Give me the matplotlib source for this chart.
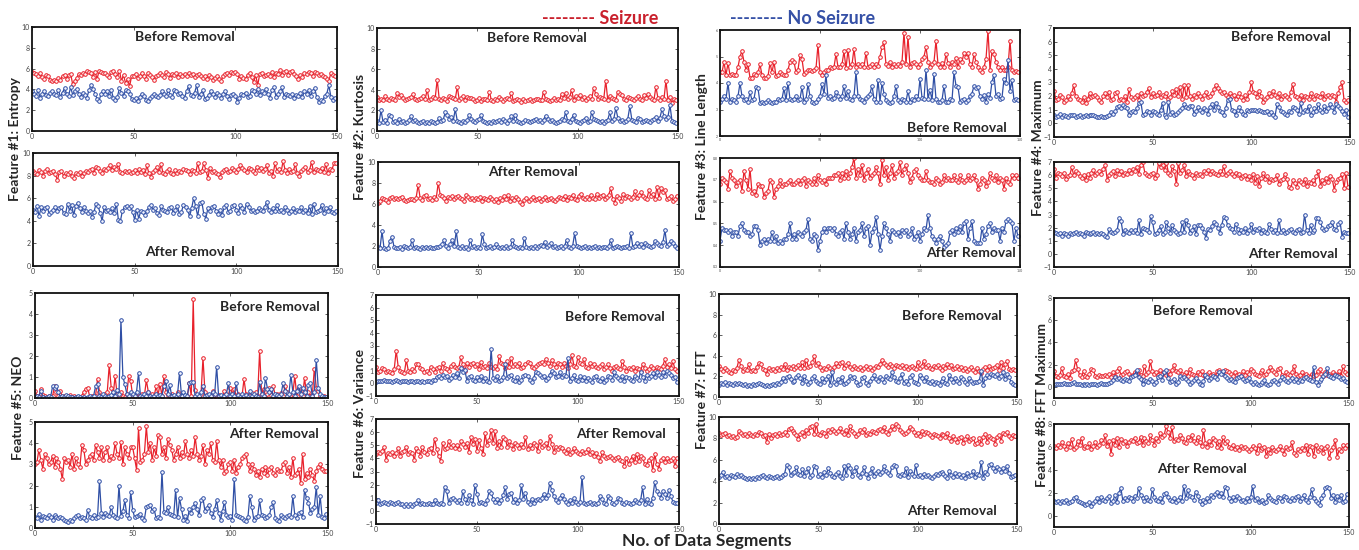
import numpy as np
import matplotlib
matplotlib.use("Agg")
import matplotlib.pyplot as plt

plt.rcParams['font.family'] = ['Lato', 'DejaVu Sans']

# ---------------- DATA ----------------
segments = np.arange(150)
x_ticks = [0, 50, 100, 150]

f1_before_seizure = [5.7,5.6,5.5,5.3,5.6,5.2,5.0,5.4,5.3,4.9, 4.8,4.9,4.8,5.1,4.9,5.3,5.4,5.0,5.4,5.5,
    4.5,4.8,5.1,5.5,5.4,5.6,5.5,5.8,5.7,5.6, 5.2,5.7,5.0,5.8,5.7,5.6,5.6,5.4,5.2,5.7,
    5.8,5.5,5.2,5.8,4.8,5.4,4.6,5.0,4.3,5.3, 5.3,5.5,5.1,5.3,5.6,5.3,5.0,5.6,5.4,5.2,
    4.9,5.3,5.4,5.6,5.4,5.2,5.7,5.5,5.1,5.5, 5.4,5.6,5.2,5.5,5.3,5.5,5.3,5.6,5.4,5.5,
    5.2,5.4,5.5,5.3,5.1,5.3,5.0,5.4,5.2,4.9, 5.1,5.3,5.0,4.8,5.3,5.5,5.6,5.4,5.7,5.6,
    5.7,5.5,5.0,5.3,5.1,5.0,5.4,5.6,5.2,4.7, 5.4,4.4,5.5,5.6,5.3,5.4,5.5,5.3,5.7,5.2,
    5.6,5.5,5.9,5.4,5.7,5.8,5.4,5.7,5.8,5.5, 5.3,5.0,5.4,5.2,5.6,5.5,5.7,5.6,5.3,5.7,
    5.6,5.4,5.5,5.3,5.2,5.0,4.8,5.6,5.4,5.3]
f1_before_noseizure = [3.8,3.6,3.4,3.9,3.2,3.6,3.8,3.5,3.4,3.7, 3.8,3.6,3.5,3.9,3.3,3.7,4.1,3.6,3.4,4.2,
    3.5,3.8,4.0,3.6,3.3,3.7,3.5,3.2,3.9,4.4, 4.0,3.6,3.1,2.9,3.6,3.8,3.6,3.8,3.4,3.9,
    3.2,3.0,3.3,4.1,3.7,3.4,3.9,3.8,3.6,3.1, 3.0,3.2,2.9,3.3,3.6,3.4,3.0,2.9,3.2,3.4,
    3.6,3.4,3.3,3.5,3.8,3.6,3.4,3.9,3.5,3.3, 3.9,3.8,3.6,3.7,3.4,3.2,3.8,4.3,3.5,3.4,
    3.7,4.4,3.3,3.6,3.9,3.1,3.2,3.5,3.8,3.6, 3.3,3.7,3.5,3.2,3.6,3.8,3.4,3.1,3.5,3.6,
    3.4,2.8,3.2,3.6,3.5,3.7,3.3,3.4,3.9,3.8, 3.6,4.0,3.5,3.8,3.7,4.0,3.6,3.2,3.9,4.2,
    3.3,3.6,3.8,4.2,3.3,3.6,3.5,3.4,3.6,3.2, 3.5,3.4,3.7,3.3,3.8,3.6,3.9,3.4,3.8,4.1,
    3.3,2.8,3.0,2.9,3.4,3.6,4.4,3.3,3.0,3.2]
f1_after_seizure = [8.4,8.2,8.1,8.5,8.3,8.0,8.4,8.6,8.2,8.3, 8.4,8.1,7.6,8.3,8.4,8.0,8.2,8.1,8.3,8.0,
    7.8,8.2,8.1,8.3,8.0,8.2,8.4,8.3,8.5,8.6, 8.2,8.8,8.7,8.4,8.2,8.6,8.5,8.7,8.9,8.5,
    8.8,8.6,9.0,8.3,8.2,8.4,8.3,8.4,8.2,8.3, 8.5,8.2,8.6,8.3,8.5,8.1,8.9,8.2,7.9,8.3,
    8.5,8.8,8.3,9.0,8.2,8.1,8.4,8.6,8.2,8.1, 8.5,8.2,8.4,8.3,8.6,8.5,8.4,8.1,8.5,8.4,
    8.2,9.1,8.3,8.4,9.1,8.5,7.8,8.7,8.3,8.4, 8.2,8.1,7.9,8.3,8.5,8.6,8.3,8.4,8.7,8.5,
    8.3,8.6,8.9,8.7,8.5,8.3,8.7,8.6,8.4,8.2, 8.8,8.5,8.7,8.4,8.6,8.9,8.2,8.4,8.0,9.1,
    8.4,8.6,8.3,9.3,8.5,8.2,8.6,8.3,8.4,9.0, 8.2,8.0,8.4,8.6,8.8,8.3,8.5,9.2,8.3,8.6,
    8.5,8.4,8.7,8.3,9.0,8.2,8.6,8.5,9.1,9.1]
f1_after_noseizure = [5.0,4.8,5.3,4.4,5.2,4.9,5.1,5.2,4.6,4.8, 5.0,5.2,4.9,5.1,5.2,4.7,4.6,5.5,4.9,5.4,
    4.5,5.3,5.6,5.1,4.8,5.2,4.9,4.7,4.9,4.3, 4.8,5.5,5.3,4.7,4.0,5.2,4.9,5.0,4.8,5.1,
    4.7,5.5,4.1,4.0,4.9,5.2,5.3,5.1,5.3,4.8, 4.1,5.0,4.2,4.9,4.8,4.5,4.9,5.2,5.4,5.0,
    5.1,4.7,4.5,5.3,5.0,4.9,4.8,5.1,5.2,4.7, 5.0,5.3,4.6,4.8,5.4,5.2,5.0,4.4,5.1,6.0,
    5.3,4.4,5.6,5.7,4.6,4.2,5.1,4.9,5.2,5.3, 4.9,4.6,5.0,4.5,5.2,5.4,4.8,4.9,5.3,5.4,
    5.0,4.7,5.4,5.1,4.8,5.5,5.2,4.9,5.0,4.8, 4.9,5.1,5.0,4.9,5.2,5.7,5.0,4.8,5.1,4.9,
    5.4,4.9,5.0,4.8,5.2,5.0,4.7,4.9,5.1,4.8, 5.0,4.9,5.2,4.8,5.0,4.7,5.3,4.6,5.5,4.8,
    4.9,5.0,5.4,4.7,5.1,4.9,5.2,4.8,4.7,4.9]

f2_before_seizure = [3.3,3.0,3.1,3.0,3.4,3.1,3.0,3.2,3.1,3.0, 3.7,3.3,3.5,3.2,3.0,3.1,3.2,3.3,3.6,3.1,
    3.0,3.1,3.2,3.4,3.1,4.0,3.0,3.1,3.3,3.2, 5.0,3.1,3.0,3.2,3.1,2.9,3.4,3.3,3.2,3.1,
    4.3,3.0,3.2,3.4,3.0,3.3,3.2,3.2,3.1,2.9, 3.0,3.2,2.9,3.1,3.1,3.0,3.8,3.0,2.9,3.1,
    3.0,3.3,3.1,2.9,3.1,3.2,3.1,3.7,2.9,3.0, 3.1,3.0,2.8,3.1,2.9,3.0,3.1,2.9,3.0,3.1,
    3.1,3.0,3.0,3.8,3.1,3.0,2.9,3.0,3.2,3.0, 3.1,3.0,3.6,3.2,3.7,3.1,3.3,4.0,3.0,3.4,
    3.2,3.5,3.1,3.3,3.0,3.2,3.4,3.1,4.2,3.6, 3.1,3.3,3.2,3.1,4.9,3.0,3.4,3.2,3.1,3.0,
    3.8,3.6,3.5,3.1,3.0,3.3,3.2,3.1,3.0,3.2, 3.4,3.1,3.0,3.5,3.2,3.6,3.3,3.1,3.0,4.3,
    3.2,3.0,3.3,3.1,4.9,3.0,3.3,2.7,3.1,3.0]
f2_before_noseizure = [1.0,0.8,2.0,0.9,1.1,0.8,1.6,1.5,0.9,1.0, 0.8,1.2,0.9,1.0,0.8,0.9,1.1,1.5,1.0,1.1,
    0.9,0.8,0.9,1.0,0.8,0.9,0.8,1.0,0.9,0.8, 0.9,1.3,1.0,1.1,1.8,1.6,1.2,1.4,1.0,2.1,
    1.0,0.9,0.8,1.0,0.9,1.1,1.6,1.2,1.0,0.9, 1.1,1.2,1.6,1.0,0.9,0.8,0.9,0.8,1.0,0.9,
    1.0,1.1,0.9,1.2,1.0,0.8,1.1,1.5,1.0,1.6, 1.0,0.9,0.8,0.9,1.1,1.0,0.9,1.0,1.1,1.2,
    1.0,1.1,0.9,1.1,1.5,1.2,1.0,1.1,0.9,0.8, 0.9,1.0,1.2,1.1,1.8,1.0,0.9,1.2,1.6,1.0,
    0.9,0.8,1.0,1.1,1.3,0.9,1.0,1.8,1.2,1.1, 1.0,0.9,1.0,0.8,1.0,1.1,1.8,1.0,1.2,2.2,
    1.3,1.0,1.1,0.9,1.0,1.2,2.4,1.1,1.0,0.9, 1.3,1.2,0.9,1.0,1.1,1.0,0.9,1.1,1.2,1.4,
    1.0,1.3,2.1,1.5,1.2,1.4,2.5,1.0,0.9,0.8]
f2_after_seizure = [6.1,6.3,6.6,6.5,6.4,6.2,6.6,6.7,6.5,6.6, 6.5,6.6,6.7,6.4,6.3,6.4,6.5,6.5,6.4,6.6,
    7.8,6.6,6.4,6.8,6.9,6.5,6.6,6.4,6.7,6.5, 8.0,6.9,6.8,6.6,6.3,6.7,6.6,6.8,6.5,6.7,
    6.8,6.6,6.5,6.3,6.9,6.7,6.5,6.6,6.4,6.6, 6.5,6.7,6.3,6.6,6.5,6.4,6.7,6.5,6.3,6.5,
    6.2,6.6,6.4,6.8,6.5,6.9,6.3,6.6,6.4,6.7, 6.5,6.2,6.0,6.4,6.6,6.3,6.5,6.7,6.4,6.5,
    6.6,6.3,6.5,6.7,6.4,6.5,6.6,6.4,6.3,6.5, 6.7,6.6,6.5,6.8,6.4,6.7,6.6,6.9,6.5,6.4,
    6.8,7.0,6.6,6.5,6.7,6.5,6.9,6.6,6.5,7.0, 6.6,6.8,6.9,6.5,6.7,6.9,7.5,6.5,6.1,6.8,
    6.6,6.3,7.0,6.6,6.8,6.7,6.5,6.7,7.2,6.6, 6.9,7.1,6.8,6.6,6.5,7.3,6.8,7.0,6.5,7.6,
    6.6,7.5,7.1,7.3,6.5,6.6,6.8,6.3,6.5,6.8]
f2_after_noseizure = [1.9,1.8,3.4,1.8,1.7,1.8,2.5,2.9,1.9,1.8, 1.8,1.9,1.7,2.0,1.9,1.8,1.9,2.6,1.8,1.9,
    1.8,1.7,1.9,1.8,1.9,1.8,1.9,1.8,1.8,1.9, 1.9,2.0,2.2,2.6,2.0,1.8,2.2,2.6,2.0,3.4,
    1.9,1.8,2.0,1.8,1.9,1.7,2.6,1.9,2.0,1.8, 1.9,1.8,3.1,2.2,1.8,1.9,2.0,1.8,1.9,2.2,
    1.9,1.8,1.9,1.8,2.0,1.8,1.9,2.6,2.0,1.9, 1.8,1.9,1.8,2.8,1.9,1.8,1.9,1.8,2.0,1.8,
    2.0,2.1,2.0,2.4,1.9,2.1,2.3,1.9,2.0,1.8, 1.9,2.0,1.8,2.0,2.6,1.9,1.8,2.0,3.2,2.0,
    1.9,1.8,1.9,2.0,1.8,1.9,1.8,1.9,2.0,1.8, 1.9,1.8,1.9,1.9,1.8,2.0,2.6,1.8,1.9,2.0,
    1.9,1.8,1.9,1.9,2.0,1.8,3.2,1.9,2.0,2.3, 2.0,2.2,1.9,2.3,2.1,2.0,1.9,2.0,2.5,2.3,
    2.1,2.0,2.4,3.5,2.0,2.2,2.5,2.3,2.0,1.8]

f3_before_seizure = [4.4,4.4,4.8,4.3,4.75,4.3,4.35,4.3,4.3,4.6, 5.0,5.2,4.8,4.5,4.7,4.2,4.2,4.35,4.3,4.4,
    4.7,4.3,4.2,4.2,4.25,4.75,4.4,4.8,4.25,4.3, 4.4,4.35,4.3,4.3,4.5,4.8,4.85,4.8,4.4,4.5,
    5.05,4.9,4.35,4.4,4.5,4.5,4.45,4.5,4.55,5.45, 4.4,4.3,4.4,4.5,4.5,4.6,4.55,4.6,5.1,4.6,
    4.6,4.7,5.2,4.55,5.25,4.6,4.7,5.3,4.6,4.7, 4.65,4.7,4.6,5.15,4.6,4.65,4.7,4.6,4.7,4.65,
    5.0,5.35,5.55,4.7,4.65,4.8,4.6,4.7,4.65,4.7, 4.65,4.8,5.9,4.7,5.75,4.6,4.75,4.8,4.7,4.6,
    4.7,4.9,5.0,5.35,4.8,4.6,4.7,4.8,5.6,4.7, 4.6,4.75,4.6,5.1,4.75,4.6,4.8,4.7,4.95,4.6,
    4.9,4.8,5.15,5.0,5.15,4.7,4.6,5.1,4.8,4.6, 4.5,4.4,4.6,4.9,5.98,4.5,5.2,5.1,4.8,4.6,
    4.5,4.6,4.5,4.5,4.6,5.6,4.5,4.4,4.45,4.4]
f3_before_noseizure = [3.3,3.4,3.5,3.4,4.0,3.3,3.4,3.35,3.3,3.5, 4.0,3.5,3.35,3.4,3.3,3.65,3.35,3.4,3.85,3.8,
    3.25,3.3,3.25,3.3,3.35,3.3,3.25,3.3,3.3,3.4, 3.35,3.4,3.8,3.35,4.0,3.4,3.35,3.4,3.5,3.35,
    3.4,3.85,3.3,3.4,3.95,3.5,3.3,3.25,3.3,3.4, 3.5,3.95,3.6,4.3,3.45,3.5,3.4,3.45,3.65,3.5,
    3.4,3.5,3.9,3.45,3.7,3.4,3.35,3.5,4.4,3.5, 3.4,3.35,3.3,3.45,3.5,3.6,3.9,3.4,3.3,4.1,
    3.3,4.0,3.6,3.35,3.3,3.25,3.3,3.5,3.9,3.35, 3.3,3.4,3.35,3.3,3.7,3.3,3.4,3.35,3.5,3.4,
    4.15,3.45,3.4,4.5,3.4,3.75,3.35,4.35,3.4,3.3, 3.3,3.35,3.9,3.3,3.3,3.4,3.35,4.4,3.9,3.85,
    3.3,3.35,3.4,3.3,3.35,3.5,3.6,3.9,3.8,3.85, 3.5,3.4,3.55,3.3,3.6,3.45,4.05,4.3,3.5,3.6,
    3.4,3.45,4.15,4.0,4.87,3.7,4.1,3.35,3.4,3.35]
f3_after_seizure = [0.68,0.71,0.70,0.69,0.66,0.74,0.71,0.70,0.67,0.69, 0.70,0.65,0.74,0.70,0.66,0.75,0.64,0.65,0.63,0.68,
    0.67,0.67,0.62,0.64,0.65,0.70,0.69,0.62,0.66,0.67, 0.70,0.67,0.68,0.68,0.69,0.70,0.68,0.68,0.69,0.70,
    0.68,0.70,0.71,0.67,0.70,0.69,0.68,0.71,0.68,0.72, 0.70,0.69,0.70,0.68,0.71,0.71,0.71,0.72,0.72,0.73,
    0.70,0.73,0.71,0.74,0.71,0.73,0.76,0.80,0.71,0.75, 0.72,0.77,0.70,0.73,0.75,0.71,0.72,0.73,0.76,0.73,
    0.68,0.79,0.72,0.76,0.70,0.73,0.77,0.71,0.73,0.74, 0.78,0.72,0.75,0.77,0.73,0.69,0.71,0.74,0.75,0.72,
    0.71,0.70,0.70,0.74,0.70,0.69,0.69,0.68,0.71,0.70, 0.68,0.69,0.72,0.70,0.71,0.70,0.70,0.72,0.70,0.69,
    0.72,0.70,0.69,0.70,0.72,0.70,0.71,0.72,0.70,0.66, 0.68,0.71,0.70,0.67,0.69,0.73,0.71,0.70,0.72,0.69,
    0.71,0.70,0.66,0.71,0.69,0.68,0.72,0.71,0.72,0.71]
f3_after_noseizure = [0.42,0.48,0.47,0.47,0.46,0.47,0.44,0.46,0.46,0.44, 0.49,0.50,0.47,0.46,0.46,0.44,0.45,0.49,0.49,0.47,
    0.40,0.42,0.43,0.41,0.43,0.42,0.46,0.42,0.44,0.41, 0.42,0.41,0.43,0.43,0.45,0.50,0.43,0.45,0.43,0.46,
    0.45,0.44,0.46,0.47,0.52,0.43,0.42,0.45,0.44,0.38, 0.42,0.46,0.48,0.46,0.48,0.48,0.47,0.48,0.45,0.44,
    0.46,0.47,0.43,0.50,0.46,0.43,0.45,0.48,0.42,0.46, 0.47,0.50,0.44,0.48,0.49,0.40,0.46,0.48,0.53,0.45,
    0.38,0.44,0.50,0.48,0.45,0.42,0.47,0.46,0.45,0.46, 0.44,0.47,0.46,0.47,0.44,0.45,0.48,0.43,0.44,0.46,
    0.42,0.45,0.48,0.47,0.54,0.48,0.44,0.43,0.41,0.43, 0.44,0.42,0.39,0.40,0.41,0.46,0.47,0.45,0.48,0.46,
    0.49,0.46,0.50,0.51,0.43,0.48,0.51,0.42,0.41,0.41, 0.41,0.48,0.43,0.45,0.49,0.50,0.46,0.48,0.47,0.47,
    0.42,0.48,0.46,0.51,0.52,0.51,0.50,0.42,0.48,0.44]

f4_before_seizure = [2.4,1.7,1.8,2.1,1.9,1.6,1.7,2.0,1.8,2.2, 2.8,2.0,1.8,1.7,1.6,1.9,1.5,1.8,2.2,1.9,
    2.0,2.1,1.9,1.7,1.6,2.0,2.2,1.9,2.3,1.7, 1.8,2.2,2.3,1.7,1.8,1.7,2.0,1.6,2.5,1.9,
    1.8,1.9,2.1,1.7,2.2,2.0,2.1,2.3,2.6,1.9, 2.2,2.0,2.1,2.3,1.9,2.1,2.0,2.2,1.8,1.9,
    2.4,2.1,2.5,2.0,2.7,1.8,2.85,1.9,2.8,2.0, 1.8,2.1,1.9,2.2,2.0,1.8,2.1,2.3,1.9,2.0,
    2.2,2.5,2.8,2.6,2.4,2.2,2.3,2.1,1.9,2.2, 2.0,2.1,1.8,2.0,2.2,1.9,1.7,2.1,1.8,2.3,
    3.0,2.3,2.2,1.9,2.4,2.0,1.6,1.8,1.9,2.2, 2.0,2.4,2.1,1.9,2.2,1.8,2.0,2.1,1.9,1.8,
    2.3,2.9,2.0,1.9,1.8,2.1,1.7,2.0,1.9,1.8, 2.2,1.9,1.8,2.1,2.0,1.9,2.2,1.8,2.0,2.1,
    1.9,2.1,2.0,1.6,2.2,2.7,3.0,1.7,1.6,1.7]
f4_before_noseizure = [0.6,0.5,0.55,0.7,0.5,0.6,0.55,0.5,0.6,0.6, 0.65,0.5,0.55,0.6,0.5,0.55,0.6,0.55,0.6,0.65,
    0.6,0.55,0.5,0.5,0.55,0.5,0.5,0.55,0.6,0.85, 0.7,0.9,1.2,1.3,1.1,1.35,1.2,1.1,0.6,0.8,
    0.9,0.8,1.1,1.5,1.6,0.6,0.7,0.9,0.8,0.6, 0.9,0.8,0.7,0.6,1.0,1.5,0.6,0.5,1.6,0.7,
    0.8,0.6,0.7,0.8,1.0,1.1,1.4,1.2,1.1,1.3, 1.3,0.7,0.9,1.2,1.0,0.8,1.1,1.0,0.7,1.2,
    1.4,1.0,1.5,1.2,0.9,0.8,0.6,1.1,1.7,1.8, 1.0,0.9,0.6,1.0,1.2,0.9,0.7,0.6,1.0,0.9,
    1.0,1.0,0.95,0.9,1.0,0.9,0.8,0.85,0.9,0.7, 0.8,0.6,0.5,1.4,1.2,0.9,0.8,0.7,0.6,0.9,
    0.8,1.2,1.1,1.0,0.7,1.5,0.8,1.0,0.9,1.3, 0.6,0.8,1.1,0.9,1.4,1.0,0.8,1.3,0.9,1.1,
    1.4,1.2,0.8,1.4,1.3,1.1,0.9,0.7,1.0,0.5]
f4_after_seizure = [6.5,5.8,6.2,6.1,5.9,6.2,5.7,5.9,6.0,6.6, 6.0,6.3,6.2,5.9,5.8,6.0,5.6,6.1,5.8,6.2,
    6.4,6.0,6.2,6.3,6.1,6.5,6.8,5.6,6.0,6.2, 6.3,5.9,6.4,6.1,6.3,6.0,6.2,6.1,6.4,6.2,
    6.5,6.3,6.6,6.1,6.8,7.0,6.2,6.0,5.9,6.1, 6.2,5.8,6.0,6.9,6.6,6.8,6.4,6.9,6.2,6.0,
    6.7,6.3,5.3,6.9,6.2,6.4,6.8,5.9,6.3,6.1, 6.0,5.8,6.2,6.0,6.1,5.9,6.3,6.2,6.4,6.1,
    6.3,6.2,6.1,6.0,6.3,6.1,6.7,6.0,6.2,6.3, 6.1,5.9,6.2,6.0,6.1,5.8,5.9,6.0,5.7,5.9,
    5.6,6.1,5.4,5.9,5.2,5.8,6.2,5.7,5.9,5.5, 5.7,5.6,5.7,6.0,5.3,5.6,5.7,6.1,5.7,5.1,
    5.0,5.6,5.4,5.1,5.6,5.5,5.3,5.7,5.2,5.5, 5.4,5.6,5.3,5.9,6.3,5.2,5.6,5.4,5.8,5.5,
    5.9,5.7,4.9,5.5,5.7,5.8,6.1,5.0,6.2,5.1]
f4_after_noseizure = [1.7,1.6,1.5,1.6,1.4,1.6,1.5,1.4,1.6,1.5, 1.6,1.7,1.5,1.6,1.5,1.4,1.7,1.6,1.5,1.6,
    1.7,1.5,1.6,1.5,1.6,1.5,1.4,1.3,1.9,1.7, 1.6,1.7,1.8,2.7,2.5,1.5,1.8,1.7,1.6,1.8,
    1.7,1.8,1.6,2.6,1.5,2.0,1.9,1.8,1.7,2.9, 2.4,1.5,1.6,1.8,2.1,1.5,1.7,2.4,2.0,1.6,
    2.2,1.8,1.7,1.5,1.6,2.4,1.7,2.6,2.2,1.6, 1.8,2.1,1.5,2.2,2.2,2.0,1.7,1.2,1.9,1.8,
    2.1,2.4,2.3,2.0,1.6,2.2,2.8,2.7,2.2,2.0, 1.9,1.7,2.3,1.9,1.6,1.8,1.7,2.0,1.6,1.8,
    2.3,1.7,1.9,1.8,2.0,1.6,1.8,1.7,1.6,2.3, 1.9,1.7,1.8,1.6,2.6,1.7,1.8,1.6,1.7,1.8,
    1.9,1.7,1.6,1.8,1.9,1.6,1.7,3.0,1.8,1.6, 2.2,1.7,1.8,2.7,2.7,2.4,2.0,1.8,1.9,2.1,
    2.2,2.4,1.9,1.8,2.3,2.4,1.3,1.7,1.6,1.6]

f5_before_seizure = [0.35,0.1,0.05,0.45,0.15,0.1,0.05,0.1,0.05,0.1, 0.55,0.3,0.1,0.35,0.05,0.1,0.05,0.1,0.15,0.05,
    0.1,0.05,0.05,0.05,0.1,0.3,0.45,0.5,0.05,0.1, 0.05,0.1,0.9,0.3,0.05,0.1,0.2,0.3,1.55,0.5,
    0.1,1.05,0.2,0.05,0.3,0.1,0.05,0.2,1.05,0.8, 0.1,0.15,0.05,0.1,0.1,0.2,0.1,0.85,0.3,0.1,
    0.2,0.1,0.55,0.15,0.65,0.1,1.05,0.3,0.15,0.1, 0.2,0.05,0.1,0.3,0.1,0.05,0.15,0.05,0.1,0.7,
    0.1,4.7,0.4,0.15,0.1,0.2,1.9,0.3,0.1,0.15, 0.1,0.35,0.1,0.05,0.15,0.1,0.05,0.35,0.1,0.15,
    0.5,0.2,0.45,0.1,0.2,0.05,0.1,0.9,0.2,0.1, 0.15,0.25,0.1,0.3,0.1,2.25,0.2,0.45,0.1,0.2,
    0.5,0.15,0.55,0.1,0.2,0.1,0.25,0.1,0.55,0.3, 0.1,0.15,0.2,1.05,0.1,0.5,0.2,0.1,0.95,0.2,
    0.3,0.1,0.15,1.4,0.5,0.35,0.1,0.05,0.1,0.05]
f5_before_noseizure = [0.05,0.1,0.05,0.35,0.05,0.02,0.05,0.1,0.05,0.55, 0.5,0.55,0.3,0.05,0.1,0.05,0.15,0.1,0.05,0.05,
    0.02,0.05,0.1,0.05,0.02,0.05,0.02,0.05,0.1,0.05, 0.1,0.55,0.65,0.1,0.05,0.2,0.1,0.05,0.1,0.15,
    0.3,0.1,0.4,0.2,3.7,1.0,0.65,0.2,0.1,0.3, 0.2,0.1,0.3,1.2,0.1,0.05,0.2,0.1,0.3,0.1,
    0.05,0.1,0.2,0.1,0.15,0.1,0.55,0.8,0.2,0.6, 0.1,0.15,0.05,0.2,1.2,0.1,0.3,0.15,0.1,0.7,
    0.75,0.75,0.1,0.2,0.1,0.3,0.55,0.1,0.15,0.2, 0.1,0.3,0.2,1.5,0.1,0.15,0.05,0.1,0.2,0.7,
    0.1,0.2,0.1,0.7,0.15,0.05,0.2,0.1,0.15,0.05, 0.35,0.1,0.2,0.1,0.05,0.75,0.2,0.1,0.95,0.45,
    0.3,0.45,0.1,0.2,0.15,0.1,0.2,0.7,0.35,0.1, 0.2,1.1,0.3,0.1,0.35,0.55,0.2,0.5,0.3,0.1,
    0.6,0.7,0.1,0.3,1.8,0.5,0.2,0.1,0.05,0.05]
f5_after_seizure = [3.0,3.1,3.7,3.2,2.8,3.5,3.3,3.0,3.1,3.4, 2.9,3.3,3.1,2.8,2.3,3.3,3.1,3.2,2.9,3.5,
    2.8,3.3,3.0,2.9,3.9,3.7,3.0,3.2,3.4,3.5, 3.2,3.9,3.6,3.3,3.8,3.2,3.6,3.8,3.2,3.4,
    3.3,4.0,3.5,3.3,4.05,3.0,3.8,3.5,3.3,3.8, 3.8,3.3,2.75,4.7,3.1,3.2,3.5,4.8,3.6,4.0,
    3.2,3.8,3.4,4.4,4.3,3.5,3.8,3.3,4.2,3.9, 3.7,3.2,3.5,3.8,3.3,3.6,3.4,4.1,3.5,3.3,
    3.7,3.4,4.3,3.5,3.2,3.4,3.9,3.0,3.7,3.5, 4.0,3.2,3.1,4.1,3.2,2.9,3.2,2.6,2.7,3.0,
    3.1,2.7,3.2,2.6,2.9,3.0,3.3,3.4,3.5,3.0, 2.7,3.0,2.8,2.5,2.7,2.4,2.8,2.6,2.9,2.5,
    2.8,2.9,2.6,2.5,2.8,2.7,2.7,3.0,3.1,2.6, 2.9,2.4,3.3,2.5,2.6,2.8,2.1,3.5,2.3,2.6,
    2.4,2.8,2.5,2.2,2.7,2.9,3.0,2.8,2.7,2.7]
f5_after_noseizure = [0.5,0.45,0.65,0.4,0.55,0.5,0.45,0.6,0.5,0.4, 0.6,0.5,0.45,0.5,0.45,0.4,0.35,0.3,0.4,0.35,
    0.45,0.55,0.6,0.45,0.5,0.45,0.4,0.85,0.5,0.45, 0.6,0.45,0.5,2.2,0.7,0.5,0.7,0.6,0.55,1.0,
    0.6,0.5,0.45,2.0,0.55,0.8,1.3,0.6,0.45,1.7, 0.85,0.5,0.55,0.6,0.65,0.45,0.4,1.0,1.05,1.1,
    0.8,0.9,0.45,0.5,0.45,2.65,0.75,0.7,1.0,0.65, 0.6,0.55,1.8,0.5,1.4,0.9,0.4,0.55,0.35,0.9,
    0.7,1.0,1.2,0.9,0.6,1.3,1.4,0.8,0.95,1.1, 0.7,0.5,0.9,1.3,0.7,0.4,0.8,1.25,0.6,0.5,
    0.55,0.4,2.3,0.6,0.55,0.5,0.45,0.4,0.35,0.5, 1.5,1.0,0.4,0.5,0.55,1.3,0.6,0.55,0.45,0.5,
    0.6,1.0,1.25,0.45,0.4,0.35,0.6,0.5,0.45,0.55, 0.6,0.5,1.5,0.6,0.45,0.7,0.75,0.5,1.8,1.4,
    1.2,0.7,0.9,1.0,1.95,0.6,1.5,0.5,0.45,0.65]

f6_before_seizure = [1.3,0.9,1.0,1.2,1.1,0.9,1.0,0.9,0.8,1.1, 2.6,1.3,1.0,0.9,0.8,1.85,1.0,0.9,1.1,1.0,
    1.5,1.5,1.2,1.1,0.9,1.0,0.8,1.3,1.1,0.9, 1.2,1.3,1.0,1.6,1.2,1.1,1.0,1.4,1.5,1.3,
    1.2,1.3,2.05,1.5,1.0,1.6,1.3,1.5,1.6,1.4, 1.5,1.1,1.7,1.3,1.4,1.2,1.6,1.3,1.2,1.4,
    1.1,2.2,1.6,1.5,1.2,1.8,1.3,2.0,1.4,1.5, 1.4,1.6,1.2,1.3,1.5,1.7,1.6,1.3,1.2,1.4,
    1.5,1.6,1.7,1.5,1.95,1.6,1.4,1.85,1.5,1.3, 1.6,1.5,1.3,1.6,1.4,1.2,1.5,2.25,1.4,1.3,
    2.1,1.6,1.5,1.95,1.3,1.2,1.6,1.4,1.5,1.3, 1.2,1.4,1.5,1.1,1.3,1.5,1.2,1.0,1.3,1.4,
    1.2,1.1,1.8,1.3,1.0,1.2,1.1,1.3,1.0,1.2, 1.1,1.0,1.5,1.2,1.0,1.1,1.4,1.2,1.0,1.3,
    1.2,1.1,1.4,1.9,1.3,1.5,1.2,1.75,1.1,1.0]
f6_before_noseizure = [0.1,0.2,0.15,0.2,0.25,0.15,0.2,0.15,0.1,0.2, 0.3,0.2,0.1,0.15,0.2,0.15,0.1,0.15,0.2,0.1,
    0.15,0.2,0.1,0.15,0.1,0.15,0.2,0.1,0.3,0.25, 0.5,0.6,0.4,0.7,0.5,0.6,0.3,0.4,0.7,0.5,
    0.8,0.4,1.2,0.9,1.05,0.2,0.5,0.6,0.3,0.2, 0.5,0.3,0.6,0.2,0.4,0.2,0.1,2.75,0.4,0.3,
    0.6,0.2,0.3,0.5,1.5,0.4,0.6,0.7,0.3,0.2, 0.5,0.1,0.3,0.6,0.7,0.6,0.3,0.1,0.4,0.9,
    0.8,0.7,0.5,0.6,0.3,0.4,0.7,1.0,0.8,0.5, 0.6,0.9,0.5,0.7,0.6,2.0,0.2,0.4,0.7,0.3,
    0.2,0.6,0.3,0.5,0.2,0.4,0.3,0.1,0.5,0.6, 0.3,0.2,0.4,0.1,0.3,0.6,0.5,0.3,0.9,0.6,
    0.4,0.3,0.6,0.2,0.5,0.4,0.3,0.2,0.6,0.4, 0.3,0.9,0.5,0.2,0.7,0.4,0.6,0.8,0.5,0.9,
    0.7,0.5,0.9,0.6,1.0,0.8,0.7,0.4,0.5,0.1]
f6_after_seizure = [4.3,4.5,4.4,4.6,4.9,3.9,4.4,4.3,4.5,4.2, 4.4,4.8,4.2,4.5,4.6,4.9,4.3,4.5,4.4,3.9,
    4.8,4.6,4.2,4.9,4.5,4.3,4.7,4.8,4.4,5.5, 4.7,4.2,3.8,5.2,4.7,4.8,5.3,4.9,5.0,4.8,
    5.0,4.7,5.3,5.1,4.9,5.2,4.5,5.6,5.1,5.5, 4.6,5.4,4.8,4.3,5.9,5.0,5.4,6.2,5.2,6.05,
    4.8,5.3,4.9,5.6,5.5,4.9,5.3,5.0,4.7,5.2, 5.0,4.8,5.1,4.9,5.6,4.7,5.0,4.8,5.2,5.0,
    4.6,5.3,4.9,5.0,5.2,4.8,5.7,5.1,4.5,4.9, 4.7,4.9,4.8,4.6,4.4,4.7,4.3,4.5,4.8,4.6,
    4.4,4.3,4.6,4.4,4.5,4.7,4.3,4.5,4.2,4.4, 4.1,3.8,4.5,4.2,4.0,4.1,4.2,4.0,3.9,4.0,
    4.1,3.9,3.8,3.4,4.0,3.6,3.9,4.2,3.7,4.3, 3.8,4.2,4.0,3.6,3.5,3.9,4.0,3.1,4.3,3.6,
    3.2,3.9,4.0,3.7,4.0,3.8,3.9,4.0,3.4,4.0]
f6_after_noseizure = [0.6,0.8,0.5,0.6,0.7,0.6,0.5,0.7,0.6,0.5, 0.6,0.7,0.5,0.5,0.4,0.5,0.4,0.5,0.4,0.5,
    0.6,0.8,0.5,0.6,0.5,0.5,0.6,0.5,0.5,0.8, 0.6,0.5,0.6,0.5,1.85,1.5,0.6,0.9,1.0,0.8,
    0.7,0.8,0.6,1.5,0.9,0.6,1.2,0.8,0.5,2.0, 1.3,0.6,0.7,0.6,0.5,0.8,1.5,1.4,0.9,0.7,
    0.9,0.6,0.8,1.2,1.8,0.9,1.3,1.4,0.7,0.9, 0.6,0.8,1.95,0.9,1.4,0.7,0.5,0.9,0.6,0.8,
    0.9,0.8,1.0,1.3,1.0,1.2,2.1,1.6,1.1,0.8, 0.7,1.0,1.2,0.9,0.7,0.5,0.8,0.6,1.0,0.7,
    0.5,0.7,2.6,0.6,0.5,0.6,0.7,0.5,0.6,0.5, 0.6,1.1,0.9,0.6,0.5,1.1,1.0,0.6,0.5,0.7,
    1.0,0.9,0.6,0.5,0.7,0.6,0.5,0.6,0.8,0.7, 0.6,0.8,1.8,0.5,0.9,0.6,0.5,1.0,2.2,1.5,
    1.3,1.0,1.5,1.3,1.0,1.6,1.1,0.7,0.6,0.6]

f7_before_seizure = [3.0,2.7,2.5,2.8,2.6,2.4,2.3,2.6,2.5,2.8, 3.6,3.0,2.5,2.7,2.6,3.2,2.5,2.6,2.5,2.9,
    3.3,3.2,2.7,2.6,2.2,2.8,2.6,2.7,2.5,2.8, 2.6,2.9,2.7,3.2,2.6,2.9,2.8,3.0,2.7,2.9,
    3.1,2.8,3.4,2.8,3.6,2.9,3.0,3.4,4.0,3.1, 3.3,2.9,2.6,2.8,2.7,3.0,2.8,2.6,2.9,3.3,
    3.0,3.3,3.4,2.8,3.1,3.3,2.9,2.7,3.0,2.8, 2.7,2.9,2.6,2.8,3.0,2.7,2.9,2.6,2.8,3.0,
    2.9,3.2,3.6,3.3,3.1,2.9,3.2,3.0,2.8,3.1, 3.0,2.9,3.1,2.8,3.0,2.7,2.9,3.0,2.8,2.7,
    3.4,2.8,3.0,3.5,2.9,3.1,2.8,2.7,3.0,2.9, 3.1,2.8,2.6,3.0,2.8,3.2,2.9,3.1,2.7,2.8,
    3.0,2.7,2.9,2.6,2.8,2.5,2.7,2.9,2.6,2.4, 2.8,2.5,2.3,2.7,2.9,2.6,3.0,2.7,2.8,2.9,
    3.1,2.6,3.4,2.8,3.2,3.5,2.7,2.6,2.7,2.6]
f7_before_noseizure = [1.2,1.4,1.3,1.5,1.2,1.4,1.3,1.2,1.4,1.3, 1.4,1.3,1.2,1.3,1.1,1.2,1.1,1.3,1.2,1.3,
    1.4,1.3,1.2,1.1,1.2,1.1,1.2,1.3,1.2,1.4, 1.3,1.5,1.8,1.6,1.9,2.0,1.7,1.5,1.6,1.9,
    2.1,1.8,1.4,2.0,1.6,1.3,1.5,1.8,2.0,1.6, 1.4,1.3,1.8,1.5,1.7,2.0,1.2,2.4,1.5,1.3,
    1.7,1.5,1.9,1.3,1.4,1.6,2.0,1.8,1.9,1.5, 1.2,1.3,1.8,1.9,1.4,1.2,1.6,1.8,2.1,1.7,
    1.6,1.9,1.7,1.5,2.0,1.8,1.7,2.4,1.9,1.6, 1.5,1.8,2.2,1.4,1.6,1.3,1.9,2.1,1.5,1.4,
    1.3,2.1,1.8,1.6,1.9,1.5,1.4,1.6,1.3,1.5, 1.4,1.2,1.6,1.8,1.4,1.3,2.1,1.7,1.5,1.8,
    1.6,1.4,1.9,1.7,1.5,1.3,1.8,1.6,1.4,1.5, 1.5,1.6,2.5,1.2,1.8,2.1,1.9,2.2,2.1,2.0,
    2.2,1.8,2.0,2.4,1.7,2.2,1.9,1.5,1.3,1.2]
f7_after_seizure = [8.5,8.3,8.4,8.5,8.2,8.3,8.1,8.2,8.0,8.1, 8.7,8.5,8.3,8.4,8.2,8.5,8.3,8.2,8.4,8.3,
    8.6,8.5,8.2,8.3,7.7,8.4,8.0,8.3,8.4,8.2, 8.5,8.3,8.4,8.6,8.3,8.9,9.0,8.7,8.5,8.3,
    7.9,8.4,8.6,8.2,8.8,8.5,9.1,9.2,8.4,9.3, 8.4,8.3,8.6,8.5,8.2,8.8,8.6,8.9,8.7,8.5,
    8.7,9.0,8.6,8.4,8.8,8.3,9.2,8.7,8.5,8.2, 8.4,8.8,8.6,8.9,8.3,8.5,8.4,8.7,8.6,8.5,
    8.8,8.9,8.7,9.1,8.6,8.4,8.8,9.2,8.9,9.3, 9.2,8.8,8.6,8.4,8.5,8.7,9.1,8.9,8.6,8.3,
    8.5,8.2,8.7,8.4,8.6,8.5,8.3,8.1,8.4,8.3, 8.2,8.0,8.4,8.3,8.1,8.5,8.0,7.8,8.2,7.9,
    7.7,8.0,8.1,7.6,7.9,8.2,7.8,7.9,8.0,7.5, 7.6,8.0,7.5,8.1,8.4,7.7,8.2,8.0,7.9,7.5,
    8.1,8.3,7.8,8.5,8.4,8.6,8.2,8.0,8.3,8.2]
f7_after_noseizure = [4.4,4.6,4.9,4.4,4.5,4.3,4.6,4.5,4.4,4.7, 4.5,4.6,4.4,4.3,4.2,4.3,4.2,4.3,4.2,4.4,
    4.3,4.5,4.6,4.4,4.3,4.5,4.4,4.3,4.4,4.5, 4.3,4.4,4.6,4.7,5.5,5.3,4.6,4.8,4.9,5.3,
    4.7,4.6,5.1,4.5,4.9,5.2,4.4,4.6,5.4,5.3, 4.5,4.7,4.4,4.9,4.6,5.2,4.8,4.5,4.4,4.7,
    4.9,4.5,4.3,5.4,4.6,5.5,5.2,4.5,5.0,5.3, 4.6,4.4,4.8,5.3,4.7,4.3,4.8,5.2,4.5,4.8,
    5.0,4.7,4.9,5.4,5.0,4.8,4.6,5.3,5.5,5.4, 4.6,4.5,4.7,4.6,5.2,4.4,5.0,4.7,4.5,5.5,
    4.5,4.6,4.4,4.7,4.5,4.6,4.4,4.3,4.5,4.7, 4.6,4.8,4.9,4.7,4.5,4.3,5.0,4.6,4.4,4.8,
    4.5,4.7,4.4,4.6,4.3,4.8,4.5,4.6,5.0,4.4, 4.7,4.6,5.8,4.3,4.9,4.7,5.5,5.6,5.2,5.0,
    5.3,5.1,4.9,5.2,5.0,5.4,4.8,4.4,4.5,4.6]

f8_before_seizure = [1.4,1.0,0.9,1.1,1.7,1.0,0.9,1.2,0.8,1.4, 1.5,2.4,1.6,1.1,0.9,1.4,1.0,0.9,1.2,1.6,
    1.5,1.0,0.9,1.1,1.0,1.0,1.1,1.0,1.2,0.9, 1.3,1.0,1.4,1.7,1.1,1.2,1.3,1.4,1.2,1.0,
    1.1,1.3,1.2,1.5,1.1,1.0,1.9,1.2,1.3,2.3, 1.4,1.2,1.3,1.1,1.5,1.2,1.3,1.1,1.4,1.2,
    1.5,2.0,1.4,1.3,1.5,1.2,1.1,1.3,1.0,1.6, 1.2,1.1,1.0,1.3,1.2,1.4,1.1,1.0,1.2,1.3,
    1.1,1.2,1.0,1.4,1.5,1.3,1.2,1.5,1.4,1.3, 1.2,1.0,1.3,1.1,1.2,1.0,1.4,1.1,1.3,1.2,
    1.6,1.4,1.2,1.1,1.0,1.3,1.5,1.1,1.2,1.4, 1.8,1.5,1.3,1.2,1.6,1.7,1.1,1.0,1.3,1.2,
    1.1,1.3,1.9,1.2,1.0,1.1,1.3,1.0,1.2,1.0, 0.9,1.2,1.0,1.1,1.4,1.6,1.2,1.0,1.3,1.1,
    1.2,1.0,1.3,1.2,1.1,1.4,1.0,1.9,1.3,1.2]
f8_before_noseizure = [0.2,0.3,0.3,0.25,0.3,0.35,0.3,0.25,0.3,0.35, 0.4,0.3,0.25,0.3,0.2,0.25,0.2,0.25,0.2,0.3,
    0.3,0.25,0.2,0.3,0.35,0.3,0.25,0.3,0.35,0.4, 0.6,0.9,0.7,0.8,0.6,0.5,0.7,0.6,0.5,0.9,
    1.0,1.1,1.5,0.9,0.7,0.3,0.6,0.5,0.4,0.7, 0.5,0.3,0.4,0.9,1.0,0.6,1.3,1.5,0.8,0.4,
    0.5,0.7,0.3,0.4,1.0,0.8,0.9,0.7,0.5,0.3, 0.4,0.6,0.8,0.5,0.3,0.2,0.5,1.1,0.9,0.6,
    0.8,1.0,0.9,0.7,1.3,1.2,1.4,1.0,0.8,0.6, 0.7,0.5,0.4,0.8,0.9,1.0,0.7,0.5,0.6,0.8,
    0.4,0.3,0.4,0.3,0.2,0.3,0.4,0.6,0.3,0.2, 0.3,0.5,0.6,0.4,0.3,0.6,0.9,0.7,0.5,0.4,
    0.6,0.8,0.5,0.7,0.4,0.6,0.5,0.8,0.9,0.7, 0.6,0.5,1.8,0.4,0.2,0.5,0.7,1.0,1.2,1.7,
    1.0,0.9,0.8,1.1,1.0,0.9,0.7,0.8,0.5,0.4]
f8_after_seizure = [6.1,5.9,6.2,6.0,6.4,6.1,5.8,6.3,6.0,6.7, 5.8,6.0,6.5,6.2,6.8,5.9,6.1,6.0,6.3,5.8,
    6.1,6.4,6.0,6.2,6.6,6.3,7.0,6.1,6.5,5.4, 6.6,6.2,6.8,6.0,6.7,6.3,6.5,6.1,6.4,6.6,
    6.5,6.8,6.3,6.4,6.9,6.2,6.8,6.5,6.3,7.0, 6.6,6.2,6.8,6.5,7.2,6.9,7.0,7.8,7.3,6.8,
    7.7,6.5,6.7,6.6,7.0,6.8,6.4,6.3,6.9,6.6, 7.0,6.5,6.3,6.9,6.4,6.1,7.5,6.3,6.0,6.5,
    6.2,6.8,6.6,6.0,6.5,5.9,6.9,6.3,6.5,6.0, 5.9,6.2,5.8,6.0,5.7,6.1,5.9,6.0,5.8,5.6,
    5.8,6.1,5.9,5.5,6.2,5.7,5.9,6.0,5.2,5.8, 5.5,6.0,5.7,5.6,5.8,6.1,5.7,5.4,6.0,5.8,
    5.9,6.4,5.5,5.3,5.8,5.6,5.9,5.7,6.2,5.4, 6.1,6.0,5.2,6.2,5.6,5.8,6.0,5.5,5.9,6.1,
    5.0,5.7,6.0,6.6,5.1,5.8,5.6,6.2,5.9,6.2]
f8_after_noseizure = [1.3,1.2,1.3,1.1,1.3,1.2,1.4,1.1,1.2,1.3, 1.5,1.6,1.3,1.2,1.1,1.0,0.9,1.0,1.2,0.8,
    1.1,1.3,1.5,1.2,1.6,1.4,1.3,1.5,1.7,1.1, 1.3,1.8,1.2,2.0,2.4,1.3,1.5,1.4,1.6,1.5,
    1.3,1.7,1.5,2.4,1.8,1.5,1.3,1.6,1.4,1.3, 2.3,1.6,1.4,1.3,1.5,1.2,1.9,2.0,1.6,1.4,
    1.3,1.5,1.2,1.4,1.6,1.3,2.6,1.5,2.2,1.7, 1.6,1.4,2.1,1.7,1.3,1.0,1.4,1.2,1.5,1.3,
    1.8,1.6,1.9,2.1,1.7,2.0,1.6,2.5,2.4,1.5, 1.3,1.6,1.4,1.7,1.5,1.3,1.4,1.2,1.5,1.3,
    1.6,2.6,1.4,1.5,1.2,1.3,1.4,1.1,1.2,1.8, 1.5,1.4,1.3,1.2,1.6,1.5,1.3,1.7,1.6,1.4,
    1.3,1.5,1.4,1.6,1.7,1.3,1.5,1.8,1.4,1.2, 1.6,2.3,1.5,1.3,1.1,0.9,1.5,1.8,2.4,2.5,
    2.4,1.5,1.8,1.2,1.7,1.4,1.8,1.2,1.3,1.9]

feature_labels = ["Feature #1: Entropy", "Feature #2: Kurtosis", "Feature #3: Line Length",
                  "Feature #4: Maximum", "Feature #5: NEO", "Feature #6: Variance",
                  "Feature #7: FFT", "Feature #8: FFT Maximum"]
panel_titles = ["Before Removal", "After Removal"]
legend_labels = ["-------- Seizure", "-------- No Seizure"]
x_label = "No. of Data Segments"

# ---------------- STYLE / LAYOUT ----------------
W, H = 1359, 550
RED = '#e8212b'
BLUE = '#2f4fa5'
TXT = '#262626'

fig = plt.figure(figsize=(W / 100, H / 100), dpi=100)

def rect(x0, y0, x1, y1):
    return [x0 / W, 1 - y1 / H, (x1 - x0) / W, (y1 - y0) / H]

def panel(box, s, ns, ylim, yticks, title, tpos, small=False):
    ax = fig.add_axes(rect(*box))
    ax.plot(segments, s, color=RED, lw=0.9, marker='o', ms=2.6, mfc='#fff2f2', mew=0.7)
    ax.plot(segments, ns, color=BLUE, lw=0.9, marker='o', ms=2.6, mfc='#f2f4ff', mew=0.7)
    ax.set_xlim(0, 150)
    ax.set_ylim(*ylim)
    ax.set_yticks(yticks)
    ax.set_xticks(x_ticks)
    fs = 2.5 if small else 5
    ax.tick_params(direction='in', length=2.5, width=0.6, labelsize=fs, colors='#444444',
                   top=True, right=True, pad=1.5)
    for sp in ax.spines.values():
        sp.set_linewidth(1.3)
        sp.set_color('#111111')
    ax.text(tpos[0], tpos[1], title, transform=ax.transAxes, ha='center', va='center',
            fontsize=10, fontweight='bold', color=TXT)
    return ax

# Feature 1
panel((32, 27, 337, 131), f1_before_seizure, f1_before_noseizure, (0, 10), range(0, 11, 2),
      panel_titles[0], (0.50, 0.90))
panel((33, 153, 338, 266), f1_after_seizure, f1_after_noseizure, (0, 10), range(0, 11, 2),
      panel_titles[1], (0.515, 0.12))
# Feature 2
panel((377, 28, 678, 131), f2_before_seizure, f2_before_noseizure, (0, 10), range(0, 11, 2),
      panel_titles[0], (0.53, 0.90))
panel((378, 162, 679, 267), f2_after_seizure, f2_after_noseizure, (0, 10), range(0, 11, 2),
      panel_titles[1], (0.515, 0.905))
# Feature 3
panel((720, 30, 1020, 136), f3_before_seizure, f3_before_noseizure, (2, 6), [2, 3, 4, 5, 6],
      panel_titles[0], (0.79, 0.08), small=True)
panel((720, 158, 1020, 267), f3_after_seizure, f3_after_noseizure, (0.3, 0.8),
      [0.3, 0.4, 0.5, 0.6, 0.7, 0.8], panel_titles[1], (0.835, 0.13), small=True)
# Feature 4
panel((1054, 28, 1350, 137), f4_before_seizure, f4_before_noseizure, (-1, 7), range(-1, 8),
      panel_titles[0], (0.767, 0.913))
panel((1054, 162, 1350, 267), f4_after_seizure, f4_after_noseizure, (-1, 7), range(-1, 8),
      panel_titles[1], (0.808, 0.128))
# Feature 5
panel((35, 293, 328, 398), f5_before_seizure, f5_before_noseizure, (0, 5), range(0, 6),
      panel_titles[0], (0.80, 0.863))
panel((35, 422, 328, 528), f5_after_seizure, f5_after_noseizure, (0, 5), range(0, 6),
      panel_titles[1], (0.816, 0.89))
# Feature 6
panel((376, 295, 679, 396), f6_before_seizure, f6_before_noseizure, (-1, 7), range(-1, 8),
      panel_titles[0], (0.79, 0.78))
panel((376, 419, 679, 524), f6_after_seizure, f6_after_noseizure, (-1, 7), range(-1, 8),
      panel_titles[1], (0.807, 0.857))
# Feature 7
panel((719, 294, 1017, 397), f7_before_seizure, f7_before_noseizure, (0, 10), range(0, 11, 2),
      panel_titles[0], (0.78, 0.79))
panel((719, 417, 1017, 524), f7_after_seizure, f7_after_noseizure, (0, 10), range(0, 11, 2),
      panel_titles[1], (0.783, 0.122))
# Feature 8
panel((1054, 298, 1349, 398), f8_before_seizure, f8_before_noseizure, (-1, 8), range(0, 9, 2),
      panel_titles[0], (0.505, 0.87))
panel((1054, 424, 1349, 527), f8_after_seizure, f8_after_noseizure, (-1, 8), range(0, 9, 2),
      panel_titles[1], (0.50, 0.563))

# Feature y-labels
label_pos = [(15, 139), (360, 137), (702, 147), (1038, 148),
             (18, 408), (360, 413), (702, 400), (1042, 405)]
for lab, (px, py) in zip(feature_labels, label_pos):
    fig.text(px / W, 1 - py / H, lab, rotation=90, ha='center', va='center',
             fontsize=10, fontweight='bold', color=TXT)

# Legend text and common x-label
fig.text(600 / W, 1 - 18 / H, legend_labels[0], ha='center', va='center',
         fontsize=13, fontweight='bold', color='#c9202c')
fig.text(803 / W, 1 - 18 / H, legend_labels[1], ha='center', va='center',
         fontsize=13, fontweight='bold', color='#3550a6')
fig.text(707 / W, 1 - 541 / H, x_label, ha='center', va='center',
         fontsize=12.5, fontweight='bold', color=TXT)

fig.savefig("out.png", dpi=100)
